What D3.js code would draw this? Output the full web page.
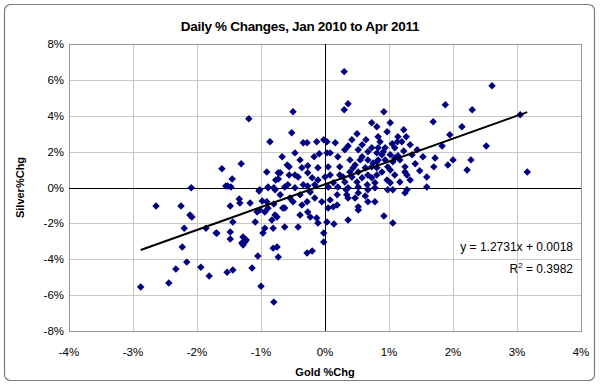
<!DOCTYPE html>
<html>
<head>
<meta charset="utf-8">
<script src="https://cdn.jsdelivr.net/npm/d3@7"></script>
<style>
  body { margin: 0; background: #fff; }
  text { font-family: "Liberation Sans", Arial, sans-serif; }
</style>
</head>
<body>
<div id="chart"></div>
<script>
const width = 600;
const height = 384;

// daily % changes (gold = x, silver = y)
const goldChg = [
  -2.09,-2.64,-2.25,-2.11,-2.08,-2.20,-1.86,-1.70,-2.23,-2.16,-2.33,-1.94,-1.81,-2.88,-2.44,
  -1.19,-0.86,-1.61,-1.31,-1.45,-1.55,-1.47,-0.91,-0.77,-0.73,-0.89,-1.02,-0.80,
  -1.52,-1.03,-0.89,-0.78,-1.34,-1.33,-1.17,-1.48,-0.98,-0.91,-1.02,-0.89,-0.80,-1.06,-0.94,
  -0.78,-0.83,-1.09,-1.44,-1.69,-1.48,-1.48,-1.28,-1.23,-1.30,-1.25,-1.28,-0.94,-0.81,-0.97,
  -0.75,-0.81,-0.73,-1.05,-1.53,-1.44,-1.14,-1.00,-0.80,
  -0.50,-0.52,-0.34,-0.28,-0.13,-0.02,-0.47,-0.67,-0.17,-0.59,-0.56,-0.27,-0.09,0.03,-0.70,
  -0.56,-0.42,-0.27,-0.11,-0.20,-0.73,-0.58,-0.34,-0.11,0.00,
  -0.63,-0.47,-0.27,-0.70,-0.66,-0.63,-0.50,-0.36,-0.28,-0.16,-0.05,-0.39,-0.27,-0.23,-0.13,
  -0.11,-0.75,-0.63,-0.42,-0.02,-0.02,-0.28,-0.20,
  0.30,0.36,0.30,0.73,0.81,0.50,0.64,0.36,0.52,0.16,0.03,0.73,0.81,0.08,0.20,0.39,0.58,0.67,
  0.75,0.83,0.05,0.23,0.44,0.52,0.63,0.73,0.81,0.08,0.28,0.42,0.67,0.13,0.31,0.50,0.66,0.78,0.20,
  0.05,0.36,0.52,0.67,0.78,0.19,0.34,0.52,0.67,0.78,0.05,0.13,0.19,0.36,0.52,0.52,0.03,0.14,0.36,
  0.92,1.02,0.97,1.23,1.14,1.27,0.83,0.86,1.05,1.13,1.20,0.83,0.91,1.09,1.23,1.69,1.44,1.53,1.72,
  0.89,1.02,1.14,0.81,0.94,1.06,0.98,1.25,1.41,1.70,1.25,1.28,1.48,0.81,1.02,1.59,0.97,1.02,0.98,
  1.28,1.59,
  1.06,1.25,0.92,1.06,
  2.61,1.88,2.30,3.05,2.14,1.95,1.83,2.52,2.00,1.92,2.28,2.22,3.16,
  // dense middle
  0.31,0.42,0.58,0.67,0.94,1.09,1.17,1.33,1.36,0.47,0.55,0.23,0.39,0.58,0.73,0.89,1.09,1.17,1.33,
  0.33,0.47,0.63,0.08,-0.39,-0.23,-0.47,-0.36,-0.16,-0.55,-0.39
];
const silverChg = [
  -0.02,-1.03,-1.03,-1.53,-1.64,-2.27,-2.27,-2.54,-3.32,-4.16,-4.55,-4.44,-4.94,-5.55,-5.33,
  3.83,2.55,1.04,1.32,0.48,0.09,0.03,0.87,0.42,0.82,0.03,-0.13,-0.02,
  0.09,-0.19,-0.02,-0.13,-0.64,-0.86,-0.86,-1.03,-0.75,-0.80,-1.26,-1.15,-0.92,-1.36,-1.36,
  -1.53,-1.81,-1.92,-1.92,-2.55,-2.48,-2.87,-2.76,-2.93,-3.09,-3.04,-3.21,-2.27,-2.27,-2.54,
  -3.32,-3.38,-3.88,-3.82,-4.72,-4.60,-4.49,-5.50,-6.39,
  4.22,3.05,2.49,2.49,2.55,2.66,1.93,1.71,1.71,1.26,1.15,1.21,1.88,1.93,0.82,
  0.70,0.59,0.82,1.10,0.54,0.48,0.15,0.15,0.42,0.59,
  0.03,-0.02,0.09,-0.41,-1.14,-1.14,-0.80,-0.97,-0.80,-0.58,-0.80,-1.53,-1.36,-1.64,-1.70,
  -1.98,-1.64,-2.20,-2.20,-2.54,-3.04,-3.65,-3.54,
  6.46,4.67,4.33,3.61,3.39,3.00,2.66,2.32,2.10,2.49,2.55,2.21,1.93,1.93,1.71,1.54,1.71,1.54,
  1.37,1.54,1.15,1.15,1.10,0.87,1.10,1.15,1.10,0.70,0.59,0.59,0.70,0.26,0.31,0.31,0.15,0.26,0.03,
  0.03,-0.02,0.03,-0.13,-0.02,-0.41,-0.41,-0.30,-0.80,-0.80,-1.14,-1.08,-0.97,-0.58,-1.08,-1.25,-1.92,-2.03,-1.81,
  4.22,3.61,3.11,3.22,2.83,2.83,2.83,2.55,2.44,2.55,2.55,2.21,1.99,2.21,2.04,3.66,2.10,1.71,1.65,
  1.82,1.82,1.77,1.43,1.54,1.43,1.15,1.15,1.32,1.15,0.87,0.70,0.93,0.70,0.98,0.59,0.42,0.26,-0.13,
  -0.13,0.03,
  -0.13,-0.30,-1.59,-1.98,
  5.67,4.61,4.33,4.05,3.39,2.94,2.32,2.32,1.54,1.26,1.54,0.98,0.87,
  // dense middle
  2.10,2.66,2.38,1.99,2.21,1.65,1.54,2.38,1.82,1.26,1.54,0.70,0.87,0.54,0.54,0.87,0.70,0.31,0.42,
  -0.13,-0.58,-0.47,-0.69,-0.41,-0.25,0.70,1.10,0.15,-0.58,1.54
];

const xTicks = [-4, -3, -2, -1, 0, 1, 2, 3, 4];
const yTicks = [-8, -6, -4, -2, 0, 2, 4, 6, 8];

const titleText = "Daily % Changes, Jan 2010 to Apr 2011";
const xTitle = "Gold %Chg";
const yTitle = "Silver%Chg";
const slope = 1.2731;
const intercept = 0.18; // 0.0018 as a percentage
const eqText = "y = 1.2731x + 0.0018";
const r2Value = "0.3982";

const points = goldChg.map((g, i) => ({x: g, y: silverChg[i]}));

const x = d3.scaleLinear().domain([-4, 4]).range([69, 581]);
const y = d3.scaleLinear().domain([-8, 8]).range([331, 44]);

const svg = d3.select("#chart").append("svg")
  .attr("width", width)
  .attr("height", height);

// outer chart border
svg.append("rect")
  .attr("x", 4.5).attr("y", 4.5)
  .attr("width", 590).attr("height", 376)
  .attr("rx", 6)
  .attr("fill", "#fff")
  .attr("stroke", "#7a7a7a")
  .attr("stroke-width", 1.2);

svg.append("text")
  .attr("x", 300).attr("y", 31)
  .attr("text-anchor", "middle")
  .attr("font-size", 13.5)
  .attr("font-weight", "bold")
  .attr("letter-spacing", -0.3)
  .text(titleText);

// gridlines
const grid = svg.append("g").attr("stroke", "#c8c8c8").attr("stroke-width", 1);
grid.selectAll("line.v")
  .data(xTicks)
  .join("line")
  .attr("class", "v")
  .attr("x1", d => Math.round(x(d)) + 0.5).attr("x2", d => Math.round(x(d)) + 0.5)
  .attr("y1", y(8)).attr("y2", y(-8));
grid.selectAll("line.h")
  .data(yTicks)
  .join("line")
  .attr("class", "h")
  .attr("y1", d => Math.round(y(d)) + 0.5).attr("y2", d => Math.round(y(d)) + 0.5)
  .attr("x1", x(-4)).attr("x2", x(4));

svg.append("rect")
  .attr("x", x(-4) + 0.5).attr("y", Math.round(y(8)) + 0.5)
  .attr("width", x(4) - x(-4)).attr("height", Math.round(y(-8)) - Math.round(y(8)))
  .attr("fill", "none")
  .attr("stroke", "#999");

// zero axes
svg.append("line")
  .attr("x1", x(-4)).attr("x2", x(4))
  .attr("y1", Math.round(y(0)) + 0.5).attr("y2", Math.round(y(0)) + 0.5)
  .attr("stroke", "#000");
svg.append("line")
  .attr("y1", y(8)).attr("y2", y(-8))
  .attr("x1", Math.round(x(0)) + 0.5).attr("x2", Math.round(x(0)) + 0.5)
  .attr("stroke", "#000");

// tick labels
svg.append("g")
  .selectAll("text")
  .data(yTicks)
  .join("text")
  .attr("x", 64)
  .attr("y", d => y(d) + 4)
  .attr("text-anchor", "end")
  .attr("font-size", 11.5)
  .text(d => d + "%");

svg.append("g")
  .selectAll("text")
  .data(xTicks)
  .join("text")
  .attr("x", d => x(d))
  .attr("y", 356)
  .attr("text-anchor", "middle")
  .attr("font-size", 11.5)
  .text(d => d + "%");

svg.append("text")
  .attr("x", x(0)).attr("y", 376)
  .attr("text-anchor", "middle")
  .attr("font-size", 11)
  .attr("font-weight", "bold")
  .text(xTitle);

svg.append("text")
  .attr("transform", `translate(24,${y(0)}) rotate(-90)`)
  .attr("text-anchor", "middle")
  .attr("font-size", 11)
  .attr("font-weight", "bold")
  .text(yTitle);

// markers
const diamond = d3.symbol().type(d3.symbolSquare).size(28);
svg.append("g")
  .selectAll("path")
  .data(points)
  .join("path")
  .attr("d", diamond)
  .attr("transform", d => `translate(${x(d.x)},${y(d.y)}) rotate(45)`)
  .attr("fill", "#000080");

// linear trendline over the data range
const xMin = d3.min(goldChg), xMax = d3.max(goldChg);
svg.append("line")
  .attr("x1", x(xMin)).attr("y1", y(slope * xMin + intercept))
  .attr("x2", x(xMax)).attr("y2", y(slope * xMax + intercept))
  .attr("stroke", "#000")
  .attr("stroke-width", 2);

// equation
svg.append("text")
  .attr("x", 573).attr("y", 251)
  .attr("text-anchor", "end")
  .attr("font-size", 12)
  .text(eqText);
const r2 = svg.append("text")
  .attr("x", 573).attr("y", 273)
  .attr("text-anchor", "end")
  .attr("font-size", 12);
r2.append("tspan").text("R");
r2.append("tspan").attr("dy", -5).attr("font-size", 8).text("2");
r2.append("tspan").attr("dy", 5).text(" = " + r2Value);
</script>
</body>
</html>
